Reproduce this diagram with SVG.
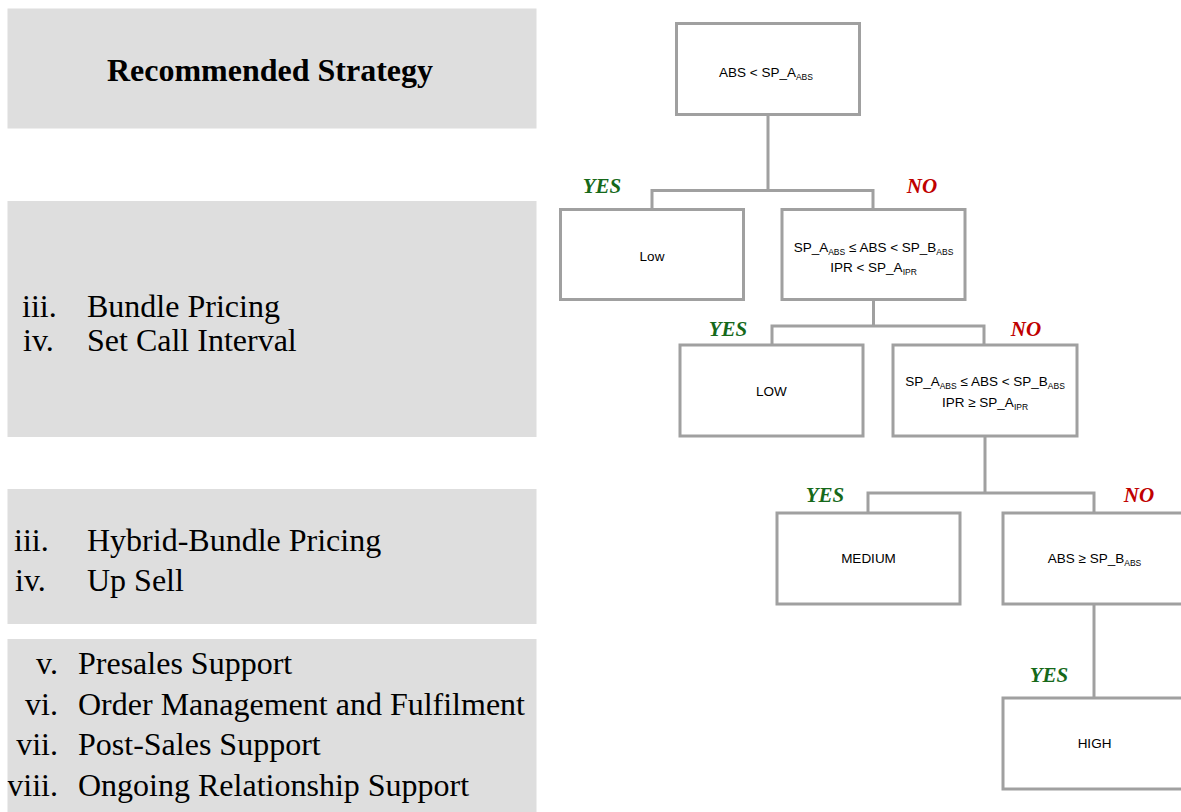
<svg xmlns="http://www.w3.org/2000/svg" width="1181" height="812" viewBox="0 0 1181 812">
  <defs>
    <style>
      .panel { fill: #dedede; }
      .serif { font-family: "Liberation Serif", "Times New Roman", serif; font-size: 32px; fill: #000; }
      .title { font-weight: bold; }
      .box { fill: #fff; stroke: #a0a0a0; stroke-width: 3; }
      .lbl { font-family: "Liberation Sans", Arial, sans-serif; font-size: 13.5px; fill: #000; text-anchor: middle; }
      .sub { font-size: 8.5px; }
      .yes { font-family: "Liberation Serif", "Times New Roman", serif; font-size: 21px; font-weight: bold; font-style: italic; fill: #16691a; text-anchor: middle; }
      .no { font-family: "Liberation Serif", "Times New Roman", serif; font-size: 21px; font-weight: bold; font-style: italic; fill: #c00000; text-anchor: middle; }
      .wire { fill: none; stroke: #a0a0a0; stroke-width: 3; }
    </style>
    <clipPath id="clip-panel4">
      <rect x="7.5" y="639" width="529" height="173"/>
    </clipPath>
  </defs>

  <rect width="1181" height="812" fill="#fff"/>

  <!-- strategy column -->
  <g id="strategy-header">
    <rect class="panel" x="7.5" y="8.5" width="529" height="120"/>
    <text class="serif title" x="270" y="81" text-anchor="middle">Recommended Strategy</text>
  </g>

  <g id="strategy-low">
    <rect class="panel" x="7.5" y="201" width="529" height="236"/>
    <text class="serif" x="22" y="317">iii.</text>
    <text class="serif" x="87" y="317">Bundle Pricing</text>
    <text class="serif" x="23" y="351">iv.</text>
    <text class="serif" x="87" y="351">Set Call Interval</text>
  </g>

  <g id="strategy-medium">
    <rect class="panel" x="7.5" y="489" width="529" height="135"/>
    <text class="serif" x="14" y="551">iii.</text>
    <text class="serif" x="87" y="551">Hybrid-Bundle Pricing</text>
    <text class="serif" x="15" y="591">iv.</text>
    <text class="serif" x="87" y="591">Up Sell</text>
  </g>

  <g id="strategy-high">
    <rect class="panel" x="7.5" y="639" width="529" height="173"/>
    <g clip-path="url(#clip-panel4)">
      <text class="serif" x="58" y="674" text-anchor="end">v.</text>
      <text class="serif" x="78" y="674">Presales Support</text>
      <text class="serif" x="58" y="715" text-anchor="end">vi.</text>
      <text class="serif" x="78" y="715">Order Management and Fulfilment</text>
      <text class="serif" x="58" y="755" text-anchor="end">vii.</text>
      <text class="serif" x="78" y="755">Post-Sales Support</text>
      <text class="serif" x="58" y="796" text-anchor="end">viii.</text>
      <text class="serif" x="78" y="796">Ongoing Relationship Support</text>
    </g>
  </g>

  <!-- decision tree connectors -->
  <g id="connectors">
    <path class="wire" d="M768 115 V190.5 M652 209.5 V190.5 H873 V209.5"/>
    <path class="wire" d="M873.5 299.5 V326 M772 345 V326 H984 V345"/>
    <path class="wire" d="M985 436 V493 M868 513 V493 H1094 V513"/>
    <path class="wire" d="M1094 604 V698"/>
  </g>

  <!-- branch labels -->
  <g id="branch-labels">
    <text class="yes" x="602" y="193">YES</text>
    <text class="no" x="922" y="193">NO</text>
    <text class="yes" x="728" y="336">YES</text>
    <text class="no" x="1026" y="336">NO</text>
    <text class="yes" x="825" y="502">YES</text>
    <text class="no" x="1139" y="502">NO</text>
    <text class="yes" x="1049" y="682">YES</text>
  </g>

  <!-- decision tree nodes -->
  <g id="node-root">
    <rect class="box" x="676.5" y="23.5" width="183" height="91"/>
    <text class="lbl" x="766" y="77">ABS &lt; SP_A<tspan class="sub" dy="3">ABS</tspan></text>
  </g>

  <g id="node-low-1">
    <rect class="box" x="560.5" y="209.5" width="183" height="90"/>
    <text class="lbl" x="652" y="260.5">Low</text>
  </g>

  <g id="node-cond-1">
    <rect class="box" x="782" y="209.5" width="183" height="90"/>
    <text class="lbl" x="873.5" y="252">SP_A<tspan class="sub" dy="3">ABS</tspan><tspan dy="-3"> ≤ ABS &lt; SP_B</tspan><tspan class="sub" dy="3">ABS</tspan></text>
    <text class="lbl" x="873.5" y="272">IPR &lt; SP_A<tspan class="sub" dy="3">IPR</tspan></text>
  </g>

  <g id="node-low-2">
    <rect class="box" x="680" y="345" width="183" height="91"/>
    <text class="lbl" x="771.5" y="396">LOW</text>
  </g>

  <g id="node-cond-2">
    <rect class="box" x="893" y="345" width="184" height="91"/>
    <text class="lbl" x="985" y="386">SP_A<tspan class="sub" dy="3">ABS</tspan><tspan dy="-3"> ≤ ABS &lt; SP_B</tspan><tspan class="sub" dy="3">ABS</tspan></text>
    <text class="lbl" x="985" y="407">IPR ≥ SP_A<tspan class="sub" dy="3">IPR</tspan></text>
  </g>

  <g id="node-medium">
    <rect class="box" x="777" y="513" width="183" height="91"/>
    <text class="lbl" x="868.5" y="563">MEDIUM</text>
  </g>

  <g id="node-cond-3">
    <rect class="box" x="1003" y="513" width="184" height="91"/>
    <text class="lbl" x="1094.5" y="563">ABS ≥ SP_B<tspan class="sub" dy="3">ABS</tspan></text>
  </g>

  <g id="node-high">
    <rect class="box" x="1003" y="698" width="184" height="91"/>
    <text class="lbl" x="1094.5" y="748">HIGH</text>
  </g>
</svg>
